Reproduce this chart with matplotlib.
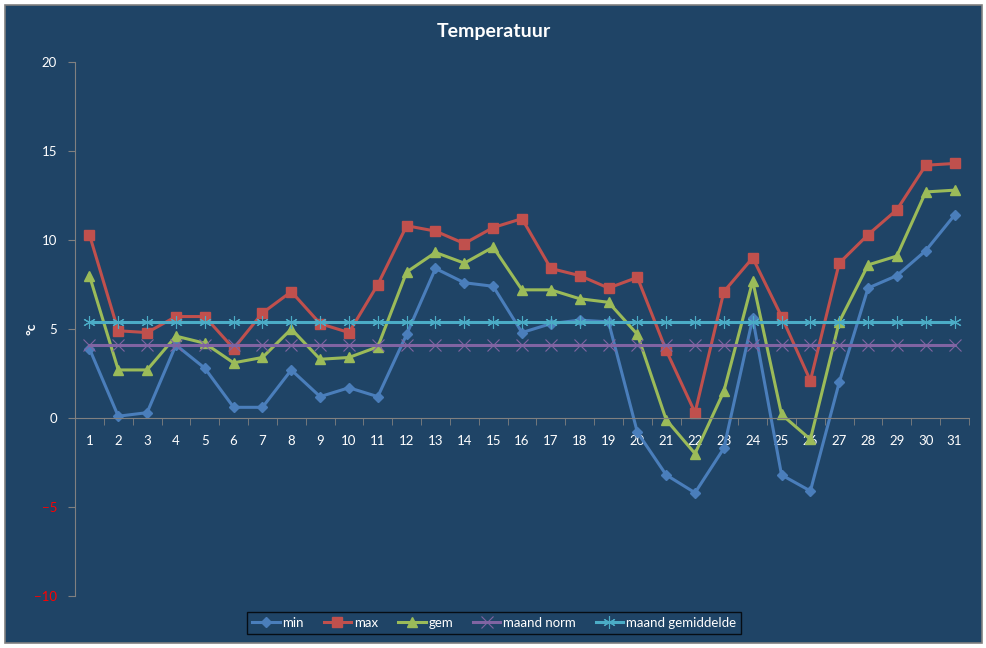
import matplotlib
matplotlib.use("Agg")
import matplotlib.pyplot as plt
from matplotlib.patches import Rectangle
from matplotlib.ticker import MultipleLocator, FixedLocator

plt.rcParams['font.family'] = ['Lato', 'DejaVu Sans']

days = list(range(1, 32))
t_min = [3.9, 0.1, 0.3, 4.1, 2.8, 0.6, 0.6, 2.7, 1.2, 1.7, 1.2, 4.7, 8.4, 7.6, 7.4,
         4.8, 5.3, 5.5, 5.4, -0.8, -3.2, -4.2, -1.7, 5.6, -3.2, -4.1, 2.0, 7.3, 8.0, 9.4, 11.4]
t_max = [10.3, 4.9, 4.8, 5.7, 5.7, 3.9, 5.9, 7.1, 5.3, 4.8, 7.5, 10.8, 10.5, 9.8, 10.7,
         11.2, 8.4, 8.0, 7.3, 7.9, 3.8, 0.3, 7.1, 9.0, 5.7, 2.1, 8.7, 10.3, 11.7, 14.2, 14.3]
t_gem = [8.0, 2.7, 2.7, 4.6, 4.2, 3.1, 3.4, 5.0, 3.3, 3.4, 4.0, 8.2, 9.3, 8.7, 9.6,
         7.2, 7.2, 6.7, 6.5, 4.7, -0.1, -2.0, 1.5, 7.7, 0.2, -1.2, 5.4, 8.6, 9.1, 12.7, 12.8]
maand_norm = [4.1] * 31
maand_gem = [5.4] * 31

BG = "#1F4466"
W, H = 987, 648

fig = plt.figure(figsize=(W / 100, H / 100), dpi=100, facecolor="white")
fig.patches.append(Rectangle((5 / W, 5 / H), 977 / W, 638 / H, transform=fig.transFigure,
                             facecolor=BG, edgecolor="#808080", linewidth=1.2, zorder=-5))

ax = fig.add_axes([75 / W, (H - 596) / H, (969 - 75) / W, (596 - 62) / H])
ax.patch.set_alpha(0)
ax.set_zorder(2)

ax.plot(days, t_min, color="#4A7EBB", lw=2.2, marker="D", ms=5, label="min")
ax.plot(days, t_max, color="#C0504D", lw=2.2, marker="s", ms=7, label="max")
ax.plot(days, t_gem, color="#9BBB59", lw=2.2, marker="^", ms=7, label="gem")
ax.plot(days, maand_norm, color="#8064A2", lw=2.2, marker="x", ms=8, mew=0.8, label="maand norm")
ax.plot(days, maand_gem, color="#4BACC6", lw=2.2, marker=(6, 2, 0), ms=9, mew=0.8,
        label="maand gemiddelde")

ax.set_xlim(0.5, 31.5)
ax.set_ylim(-10, 20)

for s in ["top", "right"]:
    ax.spines[s].set_visible(False)
ax.spines["left"].set_color("#808080")
ax.spines["bottom"].set_color("#808080")
ax.spines["bottom"].set_position(("data", 0))

ax.yaxis.set_major_locator(MultipleLocator(5))
ax.tick_params(axis="y", colors="#808080", labelcolor="white", labelsize=9.5,
               direction="out", length=5, pad=8)
fig.canvas.draw()
for lab, v in zip(ax.get_yticklabels(), ax.get_yticks()):
    if v < 0:
        lab.set_color("#FF0000")

ax.xaxis.set_major_locator(FixedLocator(days))
ax.xaxis.set_minor_locator(FixedLocator([d + 0.5 for d in range(0, 32)]))
ax.tick_params(axis="x", which="major", length=0, labelcolor="white", labelsize=9.5, pad=12)
ax.tick_params(axis="x", which="minor", length=5, color="#808080", direction="out")

# y-as titel
fig.text(32 / W, (H - 329) / H, "°c", color="white", fontsize=10, fontweight="bold",
         rotation=90, ha="center", va="center")
fig.text(0.5, (H - 32) / H, "Temperatuur", color="white", fontsize=14, fontweight="bold",
         ha="center", va="center")

leg = fig.legend(loc="center", bbox_to_anchor=(494 / W, (H - 623) / H), ncol=5,
                 frameon=True, fontsize=9.5, handlelength=2.1, columnspacing=1.5,
                 handletextpad=0.2, borderpad=0.35)
leg.get_frame().set_facecolor(BG)
leg.get_frame().set_edgecolor("black")
leg.get_frame().set_linewidth(1)
leg.get_frame().set_boxstyle("square", pad=0)
for t in leg.get_texts():
    t.set_color("white")

fig.savefig("out.png", dpi=100, facecolor="white")
